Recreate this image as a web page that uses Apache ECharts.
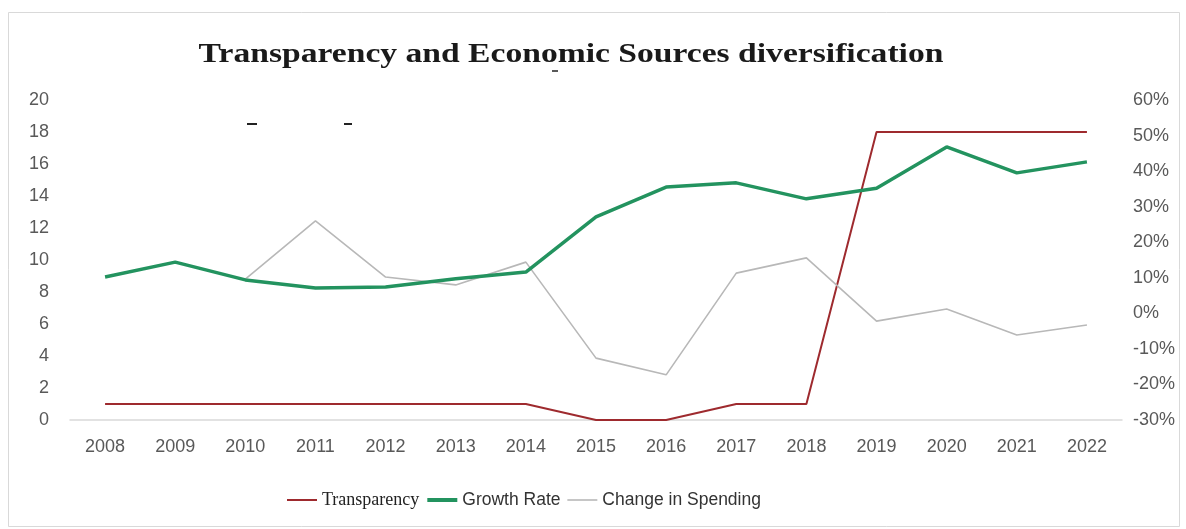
<!DOCTYPE html>
<html>
<head>
<meta charset="utf-8">
<script src="https://cdn.jsdelivr.net/npm/echarts@6/dist/echarts.min.js"></script>
<style>
  html, body { margin: 0; padding: 0; background: #ffffff; }
  #chart { width: 1186px; height: 529px; }
</style>
</head>
<body>
<div id="chart"></div>
<script>
// Years on the category axis
const years = ['2008', '2009', '2010', '2011', '2012', '2013', '2014', '2015',
               '2016', '2017', '2018', '2019', '2020', '2021', '2022'];

// Transparency score (left axis)
const transparency = [1, 1, 1, 1, 1, 1, 1, 0, 0, 1, 1, 18, 18, 18, 18];

// Growth rate, percent (right axis)
const growthRate = [10.2, 14.4, 9.4, 7.1, 7.4, 9.7, 11.6, 27.1, 35.5, 36.7, 32.2, 35.2, 46.8, 39.5, 42.6];

// Change in spending, percent (right axis)
const spendingChange = [null, null, 9.6, 26.0, 10.2, 8.0, 14.4, -12.6, -17.3, 11.3, 15.6, -2.2, 1.2, -6.1, -3.3];

// Axis ranges
const leftAxisRange = { min: 0, max: 20, interval: 2 };
const rightAxisRange = { min: -30, max: 60, interval: 10 };

const titleText = 'Transparency and Economic Sources diversification';

const tickFont = "'Liberation Sans', Arial, sans-serif";
const tickColor = '#595959';

const chart = echarts.init(document.getElementById('chart'), null, { renderer: 'canvas' });

chart.setOption({
  backgroundColor: '#ffffff',
  animation: false,
  graphic: [
    {
      // outer frame of the chart area
      type: 'rect',
      shape: { x: 8.5, y: 12.5, width: 1171, height: 514 },
      style: { fill: 'none', stroke: '#d9d9d9', lineWidth: 1 },
      silent: true
    },
    {
      type: 'text',
      x: 571,
      y: 55,
      scaleX: 1.2,
      style: {
        text: titleText,
        font: "bold 28px 'Liberation Serif', 'Times New Roman', serif",
        fill: '#1a1a1a',
        textAlign: 'center',
        textVerticalAlign: 'middle'
      }
    },
    // small dash marks above the plot
    { type: 'line', shape: { x1: 247, y1: 124, x2: 257, y2: 124 }, style: { stroke: '#222', lineWidth: 2 } },
    { type: 'line', shape: { x1: 344, y1: 124, x2: 352, y2: 124 }, style: { stroke: '#222', lineWidth: 2 } },
    { type: 'line', shape: { x1: 552, y1: 71, x2: 558, y2: 71 }, style: { stroke: '#222', lineWidth: 1.5 } }
  ],
  legend: {
    left: 281,
    top: 486,
    itemWidth: 30,
    itemHeight: 12,
    itemGap: 6,
    itemStyle: { opacity: 0 },
    data: [
      { name: 'Transparency', lineStyle: { width: 2 } },
      { name: 'Growth Rate', lineStyle: { width: 4 } },
      { name: 'Change in Spending', lineStyle: { width: 1.6 } }
    ],
    formatter: function (name) {
      return name === 'Transparency' ? '{s|' + name + '}' : '{a|' + name + '}';
    },
    textStyle: {
      color: '#333333',
      rich: {
        s: { fontFamily: "'Liberation Serif', 'Times New Roman', serif", fontSize: 18, color: '#222222' },
        a: { fontFamily: "'Liberation Sans', Arial, sans-serif", fontSize: 17.5, color: '#333333' }
      }
    }
  },
  grid: {
    left: 70,
    right: 64,
    top: 100,
    bottom: 109,
    containLabel: false
  },
  xAxis: {
    type: 'category',
    data: years,
    boundaryGap: true,
    axisLine: { show: true, lineStyle: { color: '#d9d9d9', width: 1.5 } },
    axisTick: { show: false },
    axisLabel: { color: tickColor, fontFamily: tickFont, fontSize: 18, margin: 18, interval: 0 },
    splitLine: { show: false }
  },
  yAxis: [
    {
      type: 'value',
      position: 'left',
      min: leftAxisRange.min,
      max: leftAxisRange.max,
      interval: leftAxisRange.interval,
      axisLine: { show: false },
      axisTick: { show: false },
      splitLine: { show: false },
      axisLabel: { color: tickColor, fontFamily: tickFont, fontSize: 18, margin: 21 }
    },
    {
      type: 'value',
      position: 'right',
      min: rightAxisRange.min,
      max: rightAxisRange.max,
      interval: rightAxisRange.interval,
      axisLine: { show: false },
      axisTick: { show: false },
      splitLine: { show: false },
      axisLabel: { color: tickColor, fontFamily: tickFont, fontSize: 18, margin: 11, formatter: '{value}%' }
    }
  ],
  series: [
    {
      name: 'Transparency',
      type: 'line',
      yAxisIndex: 0,
      data: transparency,
      symbol: 'none',
      lineStyle: { color: '#9e2a2e', width: 2 },
      itemStyle: { color: '#9e2a2e' },
      z: 2
    },
    {
      name: 'Change in Spending',
      type: 'line',
      yAxisIndex: 1,
      data: spendingChange,
      symbol: 'none',
      lineStyle: { color: '#b8b8b8', width: 1.6 },
      itemStyle: { color: '#b8b8b8' },
      z: 3
    },
    {
      name: 'Growth Rate',
      type: 'line',
      yAxisIndex: 1,
      data: growthRate,
      symbol: 'none',
      lineStyle: { color: '#23935f', width: 3.5 },
      itemStyle: { color: '#23935f' },
      z: 4
    }
  ]
});
</script>
</body>
</html>
